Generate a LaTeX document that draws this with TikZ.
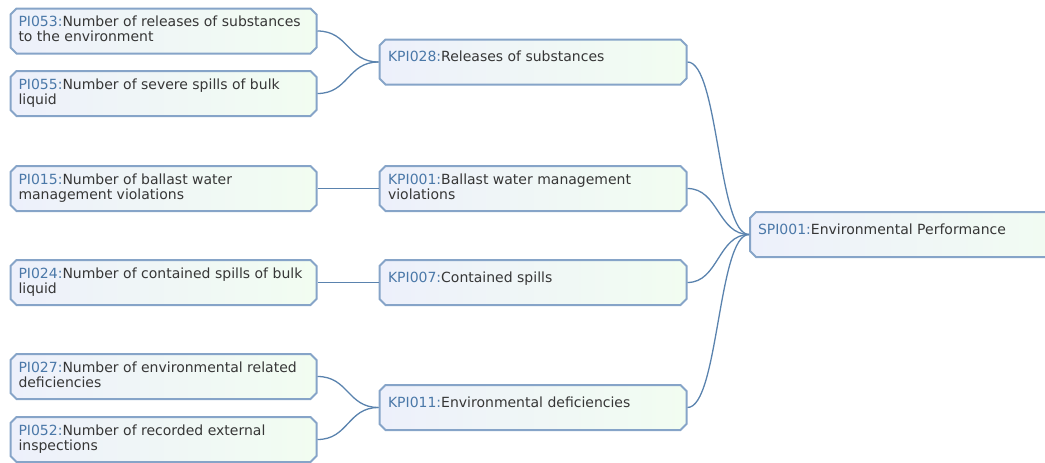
\documentclass[tikz,border=0pt]{standalone}
\usepackage{fontspec}
\setmainfont{DejaVu Sans}
\usetikzlibrary{shapes.misc}
\definecolor{boxline}{HTML}{86A4C8}
\definecolor{boxleft}{HTML}{EDF0FB}
\definecolor{boxright}{HTML}{F2FDF1}
\definecolor{linkline}{HTML}{5A83AE}
\definecolor{idtext}{HTML}{4A78A8}
\definecolor{bodytext}{HTML}{363636}
\newcommand{\kpilabel}[3][290pt]{\parbox[t][30pt][t]{#1}{\raggedright\textcolor{idtext}{#2:}#3}}
\newcommand{\kpiline}[3][290pt]{\parbox[t][22pt][t]{#1}{\raggedright\textcolor{idtext}{#2:}#3}}
\tikzset{
  kpibox/.style={chamfered rectangle, chamfered rectangle xsep=3pt, chamfered rectangle ysep=3pt,
    draw=boxline, line width=2pt, left color=boxleft, right color=boxright,
    inner xsep=5pt, inner ysep=0pt, minimum height=45pt, text=bodytext,
    font=\fontsize{14}{15}\selectfont},
  link/.style={draw=linkline, line width=1.3pt},
}

\begin{document}
\begin{tikzpicture}[x=1pt,y=-1pt]
		\useasboundingbox (0,0) rectangle (1045,463);
		% PI level
		\node[kpibox, minimum width=306pt] (pi053) at (163.5,31) {\kpilabel{PI053}{Number of releases of substances\\to the environment}};
		\node[kpibox, minimum width=306pt] (pi055) at (163.5,93.5) {\kpilabel{PI055}{Number of severe spills of bulk\\liquid}};
		\node[kpibox, minimum width=306pt] (pi015) at (163.5,188.5) {\kpilabel{PI015}{Number of ballast water\\management violations}};
		\node[kpibox, minimum width=306pt] (pi024) at (163.5,282.5) {\kpilabel{PI024}{Number of contained spills of bulk\\liquid}};
		\node[kpibox, minimum width=306pt] (pi027) at (163.5,376.5) {\kpilabel{PI027}{Number of environmental related\\deficiencies}};
		\node[kpibox, minimum width=306pt] (pi052) at (163.5,439.5) {\kpilabel{PI052}{Number of recorded external\\inspections}};
		% KPI level
		\node[kpibox, minimum width=307pt] (kpi028) at (533,62) {\kpiline{KPI028}{Releases of substances}};
		\node[kpibox, minimum width=307pt] (kpi001) at (533,188.5) {\kpilabel{KPI001}{Ballast water management\\violations}};
		\node[kpibox, minimum width=307pt] (kpi007) at (533,282.5) {\kpiline{KPI007}{Contained spills}};
		\node[kpibox, minimum width=307pt] (kpi011) at (533,407.5) {\kpiline{KPI011}{Environmental deficiencies}};
		% SPI level
		\node[kpibox, minimum width=330pt, anchor=west] (spi001) at (749,234.5) {\kpiline[316pt]{SPI001}{Environmental Performance}};
		% links
		\draw[link] (pi053.east) .. controls +(31,0) and +(-31,0) .. (kpi028.west);
		\draw[link] (pi055.east) .. controls +(31,0) and +(-31,0) .. (kpi028.west);
		\draw[link] (pi015.east) -- (kpi001.west);
		\draw[link] (pi024.east) -- (kpi007.west);
		\draw[link] (pi027.east) .. controls +(31,0) and +(-31,0) .. (kpi011.west);
		\draw[link] (pi052.east) .. controls +(31,0) and +(-31,0) .. (kpi011.west);
		\draw[link] (kpi028.east) .. controls +(31,0) and +(-31,0) .. (spi001.west);
		\draw[link] (kpi001.east) .. controls +(31,0) and +(-31,0) .. (spi001.west);
		\draw[link] (kpi007.east) .. controls +(31,0) and +(-31,0) .. (spi001.west);
		\draw[link] (kpi011.east) .. controls +(31,0) and +(-31,0) .. (spi001.west);
	\end{tikzpicture}
\end{document}
